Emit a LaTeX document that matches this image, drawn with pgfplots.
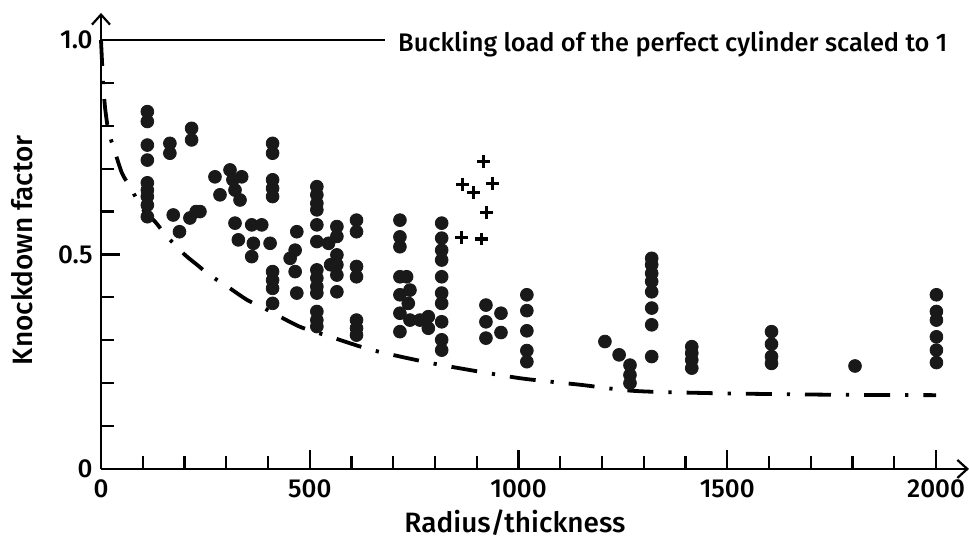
\documentclass[border=0pt,12pt]{standalone}
\usepackage{fontspec}
\setmainfont{Fira Sans}[UprightFont=* Medium]
\usepackage{pgfplots}
\pgfplotsset{compat=1.18}
\usetikzlibrary{arrows.meta}
\begin{document}
\begin{tikzpicture}
\begin{axis}[
  scale only axis,
  width=434pt, height=228pt,
  xmin=0, xmax=2079, ymin=0, ymax=1.063,
  axis lines=left,
  axis line style={line width=1.2pt, -{Straight Barb[length=5pt,width=9pt,line width=1.1pt]}},
  tick align=inside,
  tick style={line width=1.1pt, black},
  major tick length=9.5pt, minor tick length=6.5pt,
  xtick={0,500,1000,1500,2000},
  minor xtick={100,200,300,400,600,700,800,900,1100,1200,1300,1400,1600,1700,1800,1900},
  ytick={0,0.5,1},
  yticklabels={0,0.5,1.0},
  minor ytick={0.1,0.2,0.3,0.4,0.6,0.7,0.8,0.9},
  /pgf/number format/assume math mode=true,
  /pgf/number format/1000 sep={},
  xticklabel style={font=\fontsize{13}{15}\selectfont, yshift=-1pt},
  yticklabel style={font=\fontsize{13}{15}\selectfont},
  scaled ticks=false,
  xlabel={Radius/thickness},
  ylabel={Knockdown factor},
  xlabel style={at={(axis cs:991.6,-0.126)}, anchor=center, font=\fontsize{14}{16}\selectfont},
  ylabel style={at={(axis cs:-189,0.51)}, anchor=center, font=\fontsize{14}{16}\selectfont},
  clip=false,
]
% reference line at 1.0
\addplot[black, line width=1.2pt] coordinates {(0,1) (680,1)};
\node[anchor=west, font=\fontsize{12.7}{15}\selectfont, inner sep=0pt] at (axis cs:711,0.99) {Buckling load of the perfect cylinder scaled to 1};
% dash-dot lower bound
\addplot[black, line width=1.9pt, dash pattern=on 13pt off 7.5pt on 1.6pt off 7.5pt, smooth, tension=0.4] coordinates {
(0,1.0) (5,0.9) (10,0.84) (18,0.786) (30,0.75) (50,0.69) (70,0.657) (100,0.605) (130,0.576) (156,0.544) (200,0.5) (230,0.476) (260,0.452) (300,0.427) (350,0.394) (400,0.37) (475,0.332) (550,0.308) (650,0.277) (800,0.245) (1000,0.212) (1150,0.196) (1250,0.184) (1320,0.18) (1500,0.176) (1750,0.173) (2000,0.172)};
% test data (circles)
\addplot[only marks, mark=*, mark size=3.2pt, black, mark options={fill=black!90, draw=black!90}] coordinates {
(111,0.833) (111,0.81) (111,0.755) (111,0.72) (111,0.667) (111,0.65) (111,0.635) (111,0.615) (111,0.588)
(165,0.759) (165,0.736) (173,0.592) (188,0.553)
(217,0.794) (217,0.767) (213,0.585) (228,0.60) (237,0.60)
(273,0.681) (285,0.639) (309,0.697) (316,0.674) (337,0.681) (333,0.627) (321,0.65)
(321,0.573) (361,0.569) (385,0.569) (329,0.534) (365,0.526) (361,0.495) (405,0.526)
(411,0.759) (411,0.736) (411,0.674) (411,0.654) (411,0.635) (411,0.46) (411,0.44) (411,0.421) (411,0.386)
(469,0.553) (453,0.491) (465,0.51) (465,0.46) (469,0.41)
(517,0.658) (517,0.639) (517,0.619) (517,0.604) (517,0.569) (517,0.53) (517,0.464) (517,0.445) (517,0.425) (517,0.41) (517,0.367) (517,0.347) (517,0.332)
(545,0.526) (550,0.476)
(565,0.565) (565,0.542) (565,0.499) (565,0.476) (565,0.452) (565,0.413)
(612,0.58) (612,0.553) (612,0.472) (612,0.448) (612,0.347) (612,0.328) (612,0.312)
(716,0.58) (716,0.541) (716,0.518) (716,0.448) (716,0.406) (716,0.363) (716,0.32)
(732,0.448) (740,0.417) (736,0.386) (740,0.347) (764,0.347) (784,0.355) (784,0.328)
(816,0.573) (816,0.538) (816,0.51) (816,0.487) (816,0.448) (816,0.41) (816,0.386) (816,0.343) (816,0.301) (816,0.277)
(922,0.382) (922,0.343) (922,0.305)
(958,0.363) (958,0.318)
(1020,0.406) (1020,0.369) (1020,0.322) (1020,0.276) (1020,0.25)
(1207,0.297) (1241,0.266) (1267,0.242) (1267,0.219) (1267,0.2)
(1319,0.491) (1319,0.476) (1319,0.456) (1319,0.437) (1319,0.413) (1319,0.375) (1319,0.336) (1319,0.262)
(1415,0.285) (1415,0.27) (1415,0.254) (1415,0.235)
(1606,0.32) (1606,0.291) (1606,0.262) (1606,0.246)
(1806,0.24)
(2001,0.406) (2001,0.367) (2001,0.347) (2001,0.308) (2001,0.277) (2001,0.248)
};
% crosses
\addplot[only marks, mark=+, mark size=3.2pt, black, mark options={line width=1.6pt}] coordinates {
(916,0.716) (866,0.664) (893,0.645) (937,0.666) (924,0.597) (864,0.54) (912,0.536)
};
\coordinate (bbl) at (axis cs:-241.9,-0.1632);
\coordinate (bbr) at (axis cs:2079,1.0932);
\end{axis}
\pgfresetboundingbox
\useasboundingbox (bbl) rectangle (bbr);
\end{tikzpicture}
\end{document}
